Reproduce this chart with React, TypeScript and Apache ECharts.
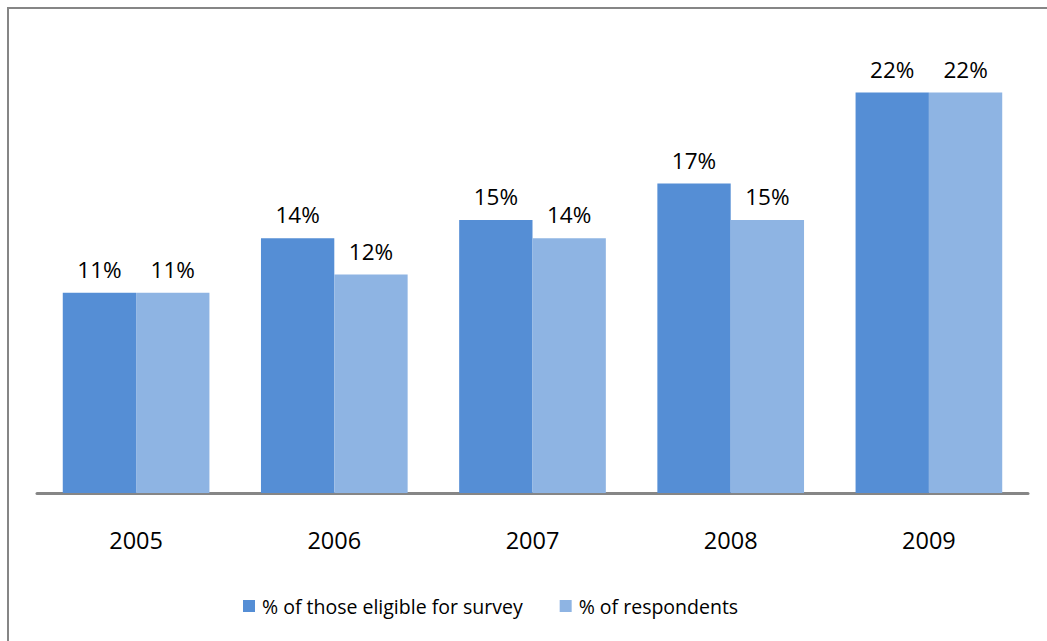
import React, { useEffect, useRef } from "react";
import * as echarts from "echarts";

const categories = ["2005", "2006", "2007", "2008", "2009"];
const eligible = [11, 14, 15, 17, 22];
const respondents = [11, 12, 14, 15, 22];
const seriesNames = ["% of those eligible for survey", "% of respondents"];

const FONT = "'Open Sans', 'Noto Sans', sans-serif";

export default function App() {
  const ref = useRef<HTMLDivElement>(null);
  useEffect(() => {
    if (!ref.current) return;
    const chart = echarts.init(ref.current, undefined, { renderer: "svg" });
    const label = {
      show: true,
      position: "top",
      distance: 12,
      color: "#000",
      fontFamily: FONT,
      fontSize: 22.5,
      formatter: (p: any) => Math.round(p.value) + "%",
    };
    chart.setOption({
      animation: false,
      backgroundColor: "#fff",
      textStyle: { fontFamily: FONT },
      graphic: [
        {
          type: "rect",
          shape: { x: 8, y: 8, width: 1200, height: 800 },
          style: { fill: "none", stroke: "#868686", lineWidth: 2 },
          silent: true,
        },
      ],
      grid: { left: 37, right: 19, top: 38, bottom: 148, containLabel: false },
      legend: {
        show: true,
        left: 243,
        top: 596,
        padding: 0,
        itemWidth: 12,
        itemHeight: 12,
        itemGap: 37,
        icon: "rect",
        textStyle: { color: "#000", fontFamily: FONT, fontSize: 19.5, padding: [0, 0, 0, 2] },
        data: seriesNames,
      },
      xAxis: {
        type: "category",
        data: categories,
        offset: 2,
        axisLine: { show: true, lineStyle: { color: "#868686", width: 3 } },
        axisTick: { show: false },
        axisLabel: { color: "#000", fontFamily: FONT, fontSize: 23.5, margin: 33 },
      },
      yAxis: {
        type: "value",
        min: 0,
        max: 25,
        interval: 5,
        show: false,
        splitLine: { show: false },
      },
      series: [
        {
          name: seriesNames[0],
          type: "bar",
          data: eligible,
          barGap: "0%",
          barCategoryGap: "26%",
          itemStyle: { color: "#558ED5" },
          label,
        },
        {
          name: seriesNames[1],
          type: "bar",
          data: respondents,
          barGap: "0%",
          barCategoryGap: "26%",
          itemStyle: { color: "#8EB4E3" },
          label,
        },
      ],
    });
    return () => chart.dispose();
  }, []);
  return (
    <div
      ref={ref}
      style={{ position: "fixed", left: 0, top: 0, width: 1047, height: 641 }}
    />
  );
}
